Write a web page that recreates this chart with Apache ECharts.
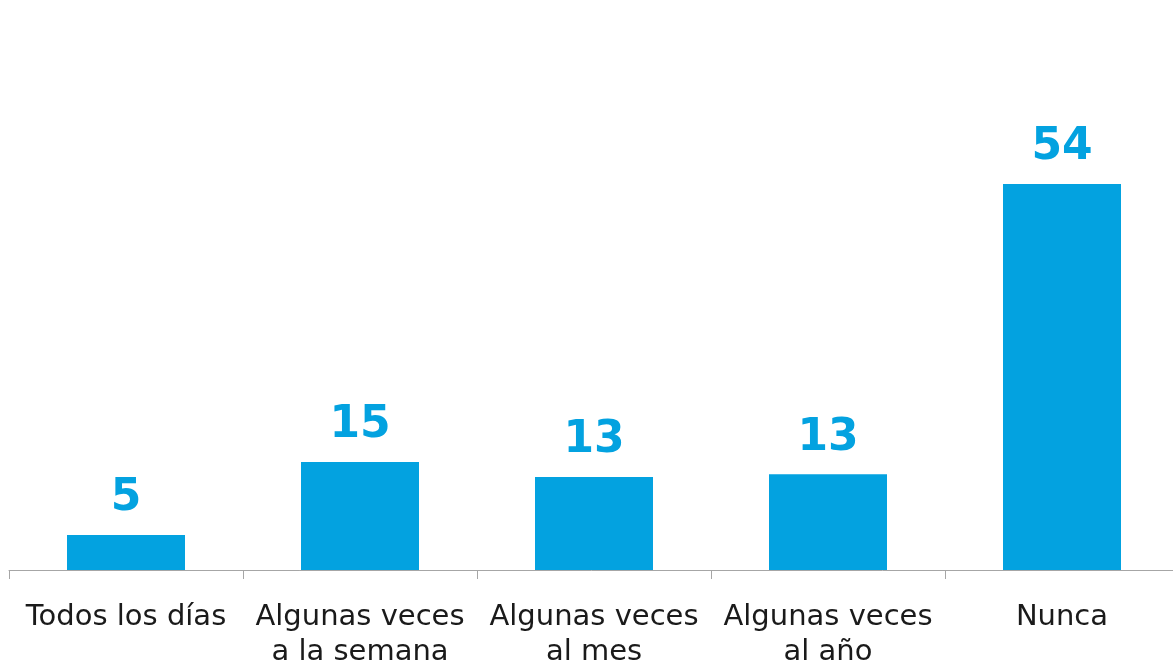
<!DOCTYPE html>
<html>
<head>
<meta charset="utf-8">
<script src="https://cdn.jsdelivr.net/npm/echarts@6/dist/echarts.min.js"></script>
<style>
  html, body { margin: 0; padding: 0; background: #fff; }
  #chart { width: 1173px; height: 669px; }
</style>
</head>
<body>
<div id="chart"></div>
<script>
// categorías y valores (%)
const categories = [
  'Todos los días',
  'Algunas veces\na la semana',
  'Algunas veces\nal mes',
  'Algunas veces\nal año',
  'Nunca'
]
const values = [4.9, 15.1, 13.0, 13.4, 54]

const chart = echarts.init(document.getElementById('chart'))
chart.setOption({
  animation: false,
  grid: { left: 9, width: 1170, top: 141, bottom: 99, outerBoundsMode: 'none' },
  xAxis: {
    type: 'category',
    data: categories,
    axisLine: { lineStyle: { color: '#a6a6a6', width: 1 } },
    axisTick: { show: true, interval: 0, length: 9, lineStyle: { color: '#a6a6a6' } },
    axisLabel: {
      interval: 0,
      hideOverlap: false,
      color: '#1a1a1a',
      fontFamily: 'DejaVu Sans',
      fontSize: 29,
      lineHeight: 35,
      margin: 30
    }
  },
  yAxis: {
    type: 'value',
    min: 0,
    max: 60,
    show: false,
    splitLine: { show: false }
  },
  series: [
    {
      type: 'bar',
      data: values,
      barWidth: 118,
      itemStyle: { color: '#03a2e0' },
      label: {
        show: true,
        position: 'top',
        distance: 14,
        color: '#03a2e0',
        fontFamily: 'DejaVu Sans',
        fontWeight: 'bold',
        fontSize: 44,
        formatter: (p) => Math.round(p.value)
      }
    }
  ]
})
</script>
</body>
</html>
